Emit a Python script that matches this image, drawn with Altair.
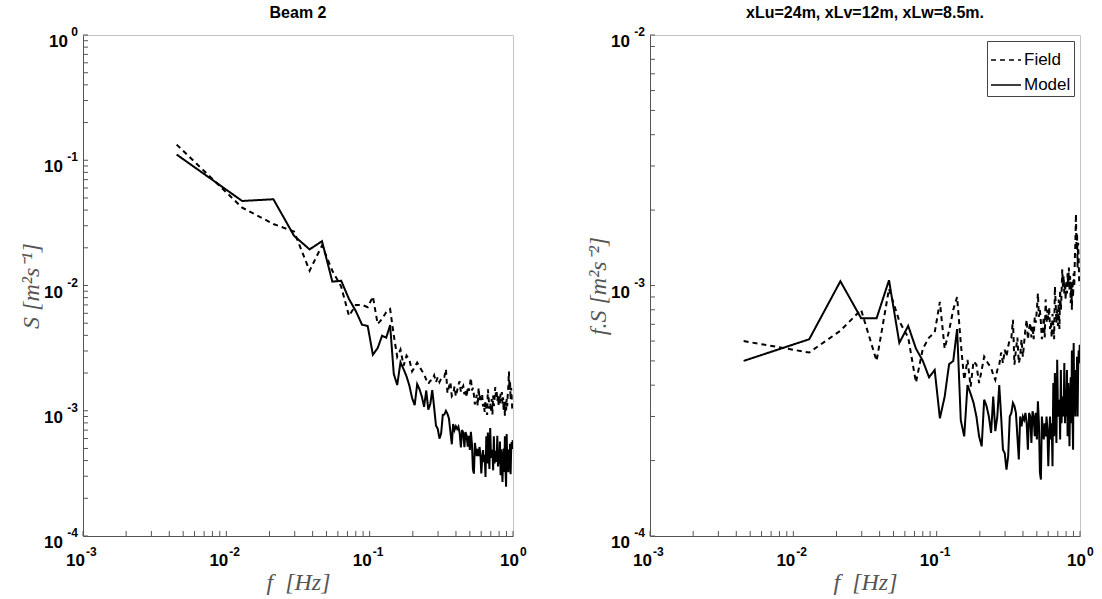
import altair as alt
import pandas as pd

# frequency bins [Hz]
freq = [
    0.0045, 0.0129, 0.0213, 0.0297, 0.0381, 0.0465, 0.0549, 0.0633, 0.0717, 0.0801,
    0.0885, 0.0969, 0.1053, 0.1137, 0.1221, 0.1305, 0.1389, 0.1473, 0.1557, 0.1641,
    0.1725, 0.1809, 0.1893, 0.1977, 0.2061, 0.2145, 0.2229, 0.2313, 0.2397, 0.2481,
    0.2565, 0.2649, 0.2733, 0.2817, 0.2901, 0.2985, 0.3069, 0.3153, 0.3237, 0.3321,
    0.3405, 0.3489, 0.3573, 0.3657, 0.3741, 0.3825, 0.3909, 0.3993, 0.4077, 0.4161,
    0.4245, 0.4329, 0.4413, 0.4497, 0.4581, 0.4665, 0.4749, 0.4833, 0.4917, 0.5001,
    0.5085, 0.5169, 0.5253, 0.5337, 0.5421, 0.5505, 0.5589, 0.5673, 0.5757, 0.5841,
    0.5925, 0.6009, 0.6093, 0.6177, 0.6261, 0.6345, 0.6429, 0.6513, 0.6597, 0.6681,
    0.6765, 0.6849, 0.6933, 0.7017, 0.7101, 0.7185, 0.7269, 0.7353, 0.7437, 0.7521,
    0.7605, 0.7689, 0.7773, 0.7857, 0.7941, 0.8025, 0.8109, 0.8193, 0.8277, 0.8361,
    0.8445, 0.8529, 0.8613, 0.8697, 0.8781, 0.8865, 0.8949, 0.9033, 0.9117, 0.9201,
    0.9285, 0.9369, 0.9453, 0.9537, 0.9621, 0.9705, 0.9789, 0.9873, 0.9957,
]

# f.S values, in units of 1e-4 m^2 s^-2
field_fS_e4 = [
    6.0, 5.4, 6.6, 8.0, 5.0, 9.7, 7.2, 6.2, 4.1, 5.6,
    6.2, 6.5, 8.6, 5.6, 6.6, 8.0, 9.0, 5.9, 4.2, 5.05,
    3.95, 4.98, 4.83, 4.08, 4.6, 5.2, 5.0, 4.83, 4.7, 4.4,
    4.2, 4.6, 4.83, 5.4, 4.9, 5.54, 5.2, 5.7, 6.1, 6.2,
    7.3, 4.83, 5.54, 6.2, 4.9, 5.2, 6.1, 5.2, 5.9, 6.7,
    7.3, 6.1, 6.7, 7.1, 6.2, 6.9, 6.1, 7.5, 7.1, 8.0,
    9.3, 7.5, 8.0, 7.1, 6.1, 6.7, 7.5, 6.2, 8.8, 7.1,
    8.0, 7.3, 8.2, 6.7, 7.1, 6.2, 7.7, 6.9, 6.1, 9.9,
    8.5, 7.1, 8.0, 6.9, 8.8, 6.7, 9.6, 8.0, 9.3, 11.6,
    9.9, 10.9, 9.3, 10.3, 8.8, 10.5, 9.3, 11.2, 9.9, 11.8,
    9.6, 10.9, 8.5, 10.3, 8.0, 10.5, 9.0, 11.2, 9.9, 12.7,
    14.8, 19.3, 13.9, 16.2, 11.8, 14.8, 12.7, 10.3, 10.0,
]

model_fS_e4 = [
    5.0, 6.1, 10.4, 7.4, 7.4, 10.5, 5.9, 6.9, 5.6, 5.0,
    4.3, 4.6, 2.95, 3.6, 4.85, 5.0, 6.7, 2.9, 2.5, 4.0,
    3.7, 3.4, 3.0, 2.5, 2.28, 3.5, 3.3, 3.0, 2.58, 3.6,
    2.62, 3.0, 4.0, 3.0, 2.21, 2.14, 1.84, 2.08, 3.0, 3.1,
    3.4, 3.3, 3.1, 2.5, 2.02, 3.0, 2.74, 3.0, 2.91, 3.1,
    2.82, 2.21, 3.1, 3.0, 2.35, 3.15, 3.0, 2.5, 3.1, 2.43,
    3.45, 2.82, 1.79, 1.68, 3.0, 2.66, 2.43, 2.82, 2.5, 3.0,
    2.66, 1.9, 2.5, 3.0, 2.43, 2.82, 1.9, 4.08, 2.5, 4.47,
    3.0, 2.35, 5.05, 3.1, 3.0, 3.5, 2.43, 4.6, 2.82, 3.6,
    3.2, 3.0, 4.9, 2.82, 3.84, 3.0, 4.6, 2.5, 4.08, 3.1,
    2.28, 3.6, 4.3, 2.82, 5.5, 3.0, 2.21, 5.9, 3.4, 3.84,
    3.0, 4.6, 3.5, 5.2, 3.0, 4.6, 5.5, 4.9, 5.8,
]

series_names = ["Field", "Model"]
panel_titles = ["Beam 2", "xLu=24m, xLv=12m, xLw=8.5m."]

# tick labels: "10" with a raised exponent
x_label_values = [0.001, 0.01, 0.1, 1.0]
x_label_exps = ["-3", "-2", "-1", "0"]
y_left_label_values = [0.0001, 0.001, 0.01, 0.1, 1.0]
y_left_label_exps = ["-4", "-3", "-2", "-1", "0"]
y_right_label_values = [0.0001, 0.001, 0.01]
y_right_label_exps = ["-4", "-3", "-2"]

# decoration: inward major+minor tick positions on log axes
x_tick_marks = [m * 10.0 ** e for e in (-3, -2, -1) for m in range(1, 10)] + [1.0]
y_left_tick_marks = [m * 10.0 ** e for e in (-4, -3, -2, -1) for m in range(1, 10)] + [1.0]
y_right_tick_marks = [m * 10.0 ** e for e in (-4, -3) for m in range(1, 10)] + [0.01]

n = len(freq)
df = pd.DataFrame({
    "f": freq + freq,
    "fS": [v * 1e-4 for v in field_fS_e4] + [v * 1e-4 for v in model_fS_e4],
    "series": [series_names[0]] * n + [series_names[1]] * n,
})

W, H = 430, 501
AX = "#555555"
TICK_LEN = 5
LFONT = "Liberation Sans"

common_axis = dict(
    labels=False,
    ticks=False,
    grid=False,
    domainColor=AX,
    domainWidth=1,
    titleFont="Liberation Serif",
    titleFontStyle="italic",
    titleFontWeight="normal",
    titleFontSize=24,
    titleColor="#555555",
)

xs = alt.Scale(type="log", domain=[0.001, 1.0], nice=False)


def x_enc():
    return alt.X(
        "f:Q", scale=xs,
        axis=alt.Axis(values=x_label_values, title="f\u00a0\u00a0[Hz]",
                      titlePadding=34, **common_axis),
    )


def y_enc(field, domain, values, title):
    return alt.Y(
        f"{field}:Q",
        scale=alt.Scale(type="log", domain=domain, nice=False),
        axis=alt.Axis(values=values, title=title, titlePadding=40, **common_axis),
    )


def text_mark(size, align, dx=0, dy=0, text=None):
    kw = dict(align=align, baseline="alphabetic", dx=dx, dy=dy, font=LFONT,
              fontWeight="bold", fontSize=size, color="black")
    if text is not None:
        kw["text"] = text
    return kw


def panel(yfield, domain, label_values, label_exps, tick_marks, ytitle, title, legend):
    base = alt.Chart(df)
    if yfield == "S":
        base = base.transform_calculate(S="datum.fS / datum.f")
    ye = lambda: y_enc(yfield, domain, label_values, ytitle)
    lines = base.mark_line(color="black", strokeWidth=2, clip=True).encode(
        x=x_enc(),
        y=ye(),
        strokeDash=alt.StrokeDash(
            "series:N",
            scale=alt.Scale(domain=series_names, range=[[5, 4], [1, 0]]),
            legend=legend,
        ),
    )
    layers = [lines]
    xt = alt.Chart(pd.DataFrame({"f": x_tick_marks})).mark_rule(
        color=AX, strokeWidth=1
    ).encode(x=x_enc(), y=alt.value(H), y2=alt.value(H - TICK_LEN))
    yt = alt.Chart(pd.DataFrame({yfield: tick_marks})).mark_rule(
        color=AX, strokeWidth=1
    ).encode(y=ye(), x=alt.value(0), x2=alt.value(TICK_LEN))
    layers += [xt, yt]

    # x tick labels
    xl = pd.DataFrame({"f": x_label_values, "exp": x_label_exps})
    for zero in (False, True):
        sub = xl[(xl["exp"] == "0") == zero]
        if len(sub) == 0:
            continue
        d = 6 if zero else 2
        layers.append(alt.Chart(sub).mark_text(**text_mark(17, "right", dx=d, text="10"))
                      .encode(x=x_enc(), y=alt.value(H + 30)))
        layers.append(alt.Chart(sub).mark_text(**text_mark(12, "left", dx=d + 1))
                      .encode(x=x_enc(), y=alt.value(H + 20), text="exp:N"))

    # y tick labels
    yl = pd.DataFrame({yfield: label_values, "exp": label_exps})
    for zero in (False, True):
        sub = yl[(yl["exp"] == "0") == zero]
        if len(sub) == 0:
            continue
        w = 10 if zero else 15
        layers.append(alt.Chart(sub).mark_text(**text_mark(17, "right", dy=12, text="10"))
                      .encode(y=ye(), x=alt.value(-5 - w)))
        layers.append(alt.Chart(sub).mark_text(**text_mark(12, "right", dy=1))
                      .encode(y=ye(), x=alt.value(-5), text="exp:N"))

    return alt.layer(*layers).properties(
        width=W, height=H,
        title=alt.TitleParams(title, font=LFONT, fontSize=16,
                              fontWeight="bold", color="black", offset=5),
    )


legend = alt.Legend(
    title=None, orient="top-right", offset=6, strokeColor="#444444",
    fillColor="white", padding=3, symbolType="stroke", symbolSize=900,
    symbolStrokeWidth=1.6, symbolStrokeColor="black",
    labelFont=LFONT, labelFontSize=17, labelColor="black",
    rowPadding=1, labelOffset=2,
)

left = panel("S", [1e-4, 1.0], y_left_label_values, y_left_label_exps,
             y_left_tick_marks, "S [m²s⁻¹]", panel_titles[0], None)
right = panel("fS", [1e-4, 1e-2], y_right_label_values, y_right_label_exps,
              y_right_tick_marks, "f.S [m²s⁻²]", panel_titles[1], legend)

chart = (
    alt.hconcat(left, right, spacing=137, bounds="flush")
    .resolve_scale(strokeDash="independent")
    .configure_view(stroke="#c4c4c4", strokeWidth=1)
    .properties(background="white",
                padding={"left": 18, "top": 4, "right": 5, "bottom": 5})
)

chart.save("out.html", embed_options={"renderer": "svg", "actions": False})
